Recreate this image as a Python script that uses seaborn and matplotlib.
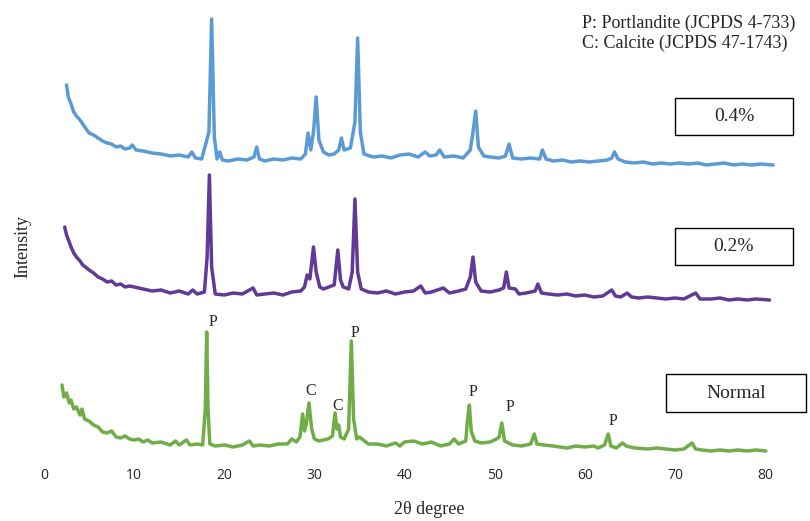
import matplotlib
matplotlib.use("Agg")
import matplotlib.pyplot as plt
import seaborn as sns
import pandas as pd
from matplotlib.patches import Rectangle

# ---------------- data (intensity above each trace's own baseline) ----------------
normal_x = [2.0, 2.2, 2.5, 2.8, 3.0, 3.3, 3.6, 4.0, 4.2, 4.5, 5.0, 5.5, 6.0, 6.5, 7.0, 7.5,
            8.0, 8.5, 9.0, 9.5, 10.0, 10.5, 11.0, 11.5, 12.0, 13.0, 14.0, 14.6, 15.0, 15.8,
            16.2, 17.0, 17.6, 17.9, 18.05, 18.2, 18.4, 19.0, 20.0, 21.0, 22.0, 22.8, 23.2,
            24.0, 25.0, 26.0, 27.0, 27.5, 28.0, 28.4, 28.7, 28.9, 29.1, 29.4, 29.7, 30.0,
            30.5, 31.0, 31.5, 32.0, 32.3, 32.5, 32.7, 32.9, 33.3, 33.8, 34.1, 34.35, 34.7,
            35.0, 36.0, 37.0, 38.0, 39.0, 39.5, 40.0, 41.0, 42.0, 43.0, 44.0, 45.0, 45.5,
            46.0, 46.8, 47.0, 47.2, 47.4, 47.8, 48.5, 49.5, 50.2, 50.5, 50.8, 51.1, 52.0,
            53.0, 54.0, 54.4, 54.7, 55.5, 56.5, 58.0, 59.0, 60.0, 61.0, 61.5, 62.2, 62.6,
            62.9, 63.5, 64.2, 64.6, 65.5, 67.0, 68.0, 69.0, 70.0, 71.0, 71.9, 72.3, 73.0,
            74.0, 75.0, 76.0, 77.0, 78.0, 79.0, 80.1]
normal_y = [64, 52, 56, 46, 49, 40, 42, 34, 40, 30, 28, 24, 22, 17, 16, 18,
            12, 11, 13, 10, 9, 10, 7, 9, 6, 7, 4, 8, 4, 9,
            4, 5, 4, 40, 117, 40, 5, 3, 4, 2, 4, 8, 3,
            4, 3, 5, 5, 10, 7, 12, 35, 18, 25, 46, 20, 10,
            8, 9, 10, 13, 36, 20, 24, 12, 10, 20, 108, 30, 10,
            12, 5, 5, 3, 6, 3, 7, 8, 5, 7, 3, 5, 10,
            5, 8, 30, 44, 18, 8, 6, 7, 10, 12, 26, 8, 4,
            3, 5, 15, 5, 4, 3, 1, 3, 2, 3, 1, 4, 15,
            3, 1, 6, 3, 1, 0, 1, 0, -1, 0, 6, 0, -1,
            -2, -1, -2, -1, -2, -1, -2]

p02_x = [2.3, 2.5, 2.8, 3.0, 3.3, 3.6, 4.0, 4.3, 4.6, 5.0, 5.5, 6.0, 6.5, 7.0, 7.5, 8.0,
         8.5, 9.0, 9.5, 10.0, 10.5, 11.0, 12.0, 13.0, 14.0, 15.0, 16.0, 16.5, 17.0, 17.8,
         18.1, 18.35, 18.6, 19.0, 20.0, 21.0, 22.0, 23.2, 23.6, 24.5, 25.5, 26.5, 27.5,
         28.5, 28.9, 29.2, 29.5, 29.9, 30.2, 30.6, 31.0, 31.6, 32.2, 32.6, 32.9, 33.2,
         33.8, 34.2, 34.5, 34.8, 35.2, 36.0, 37.0, 38.0, 39.0, 40.0, 41.0, 41.8, 42.3,
         43.0, 44.3, 45.0, 46.0, 46.8, 47.3, 47.6, 47.9, 48.5, 49.5, 50.5, 51.0, 51.3,
         51.6, 52.3, 52.7, 53.5, 54.5, 54.8, 55.2, 56.0, 57.0, 58.0, 59.0, 60.0, 61.0,
         62.0, 63.0, 63.4, 64.0, 64.7, 65.2, 66.0, 67.0, 68.0, 69.0, 70.0, 71.0, 72.3,
         72.8, 74.0, 75.0, 76.0, 77.0, 78.0, 79.0, 80.5]
p02_y = [70, 62, 55, 50, 44, 40, 36, 32, 30, 27, 24, 20, 18, 15, 16, 12,
         13, 10, 11, 10, 9, 8, 6, 7, 4, 6, 3, 7, 3, 5,
         40, 122, 30, 3, 2, 4, 3, 9, 2, 3, 4, 2, 5,
         6, 10, 22, 18, 50, 25, 10, 8, 10, 12, 47, 17, 10,
         8, 25, 98, 25, 8, 5, 4, 6, 3, 5, 6, 11, 4,
         5, 9, 4, 6, 8, 20, 40, 15, 6, 5, 7, 9, 25,
         9, 8, 3, 4, 6, 13, 4, 3, 2, 3, 1, 2, 0,
         1, 7, 1, 0, 4, 0, -1, 0, -1, -2, -1, -2, 4,
         -2, -2, -1, -3, -2, -3, -2, -3]

p04_x = [2.5, 2.7, 3.0, 3.3, 3.6, 4.0, 4.3, 4.6, 5.0, 5.5, 6.0, 6.5, 7.0, 7.5, 8.0, 8.5,
         9.0, 9.5, 9.8, 10.2, 11.0, 12.0, 13.0, 14.0, 15.0, 16.0, 16.4, 16.8, 17.5,
         18.3, 18.6, 18.9, 19.2, 19.5, 19.8, 20.5, 21.5, 22.5, 23.3, 23.6, 23.9, 24.5,
         25.5, 26.5, 27.5, 28.5, 29.0, 29.3, 29.6, 29.9, 30.2, 30.5, 31.0, 31.6, 32.2,
         32.7, 33.0, 33.3, 34.0, 34.5, 34.8, 35.1, 35.5, 36.5, 37.5, 38.5, 39.5, 40.5,
         41.5, 42.3, 42.8, 43.5, 43.9, 44.4, 45.5, 46.5, 47.3, 47.6, 47.9, 48.2, 48.8,
         49.5, 50.5, 51.2, 51.6, 52.0, 53.0, 54.0, 55.0, 55.3, 55.7, 56.5, 57.5, 58.5,
         59.5, 60.5, 61.5, 62.5, 63.0, 63.3, 63.7, 64.5, 65.5, 66.5, 67.5, 68.5, 69.5,
         70.5, 71.5, 72.5, 73.5, 74.5, 75.5, 76.5, 77.5, 78.5, 79.5, 80.9]
p04_y = [77, 65, 58, 50, 46, 42, 38, 34, 29, 27, 24, 21, 19, 18, 15, 16,
         13, 14, 17, 12, 11, 9, 8, 6, 7, 5, 10, 4, 3,
         30, 143, 25, 3, 10, 2, 1, 3, 2, 5, 15, 3, 1,
         3, 2, 4, 3, 8, 29, 12, 30, 65, 22, 10, 7, 8,
         12, 24, 12, 14, 40, 124, 30, 8, 5, 6, 4, 7, 8,
         5, 10, 6, 7, 12, 5, 6, 4, 12, 30, 51, 15, 6,
         5, 4, 6, 18, 4, 3, 4, 3, 12, 3, 1, 2, 0,
         1, 0, 1, 2, 4, 10, 3, 0, -1, 0, -2, -1, -2,
         -1, -2, -1, -3, -2, -1, -3, -2, -3, -2, -3]

series_names = ["Normal", "0.2%", "0.4%"]
series_colors = ["#70AD47", "#603A96", "#5B9BD5"]
baselines = [13, 165, 300]   # vertical stacking offsets of the traces

peak_label_text = ["P", "C", "C", "P", "P", "P", "P"]
peak_label_x = [18.75, 29.6, 32.6, 34.5, 47.6, 51.7, 63.1]
peak_label_y = [127, 58, 43, 116, 57, 42, 28]   # above Normal baseline

# ---------------- build long table ----------------
frames = []
for name, xs, ys, off in zip(series_names, [normal_x, p02_x, p04_x],
                             [normal_y, p02_y, p04_y], baselines):
    frames.append(pd.DataFrame({"angle": xs, "intensity": [v + off for v in ys],
                                "sample": name}))
df = pd.concat(frames, ignore_index=True)

# ---------------- figure ----------------
sns.set_style("white")
plt.rcParams["font.family"] = ["Liberation Serif", "DejaVu Serif"]

W, H = 810, 521
fig = plt.figure(figsize=(W / 100, H / 100), dpi=100)
ax = fig.add_axes([44 / W, 1 - 462 / H, (765 - 44) / W, 462 / H])

sns.lineplot(data=df, x="angle", y="intensity", hue="sample",
             hue_order=series_names, palette=series_colors, sort=False,
             estimator=None, linewidth=2.5, legend=False, ax=ax)
for line in ax.get_lines():
    line.set_clip_on(False)

ax.set_xlim(0, 80)
ax.set_ylim(0, 462)
ax.set_xticks([0, 10, 20, 30, 40, 50, 60, 70, 80])
ax.set_yticks([])
for s in ax.spines.values():
    s.set_visible(False)
ax.tick_params(axis="x", length=0, pad=4, labelsize=10)
for lab in ax.get_xticklabels():
    lab.set_fontfamily(["Open Sans", "DejaVu Sans"])
ax.set_xlabel("")
ax.set_ylabel("")

# peak labels
for t, px, py in zip(peak_label_text, peak_label_x, peak_label_y):
    ax.text(px, py + baselines[0], t, ha="center", va="center", fontsize=11.5)

# axis titles
fig.text(429 / W, 1 - 509 / H, "2θ degree", ha="center", va="center", fontsize=13)
fig.text(23 / W, 1 - 246 / H, "Intensity", ha="center", va="center",
         rotation=90, fontsize=13)

# material legend
fig.text(582 / W, 1 - 23 / H, "P: Portlandite (JCPDS 4-733)", ha="left",
         va="center", fontsize=13)
fig.text(582 / W, 1 - 43 / H, "C: Calcite (JCPDS 47-1743)", ha="left",
         va="center", fontsize=13)

# sample boxes
boxes = [(675, 98, 793, 135, "0.4%"), (675, 228, 793, 265, "0.2%"),
         (666, 374, 806, 412, "Normal")]
for x0, y0, x1, y1, lab in boxes:
    fig.add_artist(Rectangle((x0 / W, 1 - y1 / H), (x1 - x0) / W, (y1 - y0) / H,
                             transform=fig.transFigure, fill=False,
                             edgecolor="black", linewidth=1.0))
    fig.text((x0 + x1) / 2 / W, 1 - (y0 + y1) / 2 / H, lab, ha="center",
             va="center", fontsize=14)

fig.savefig("out.png", dpi=100)
